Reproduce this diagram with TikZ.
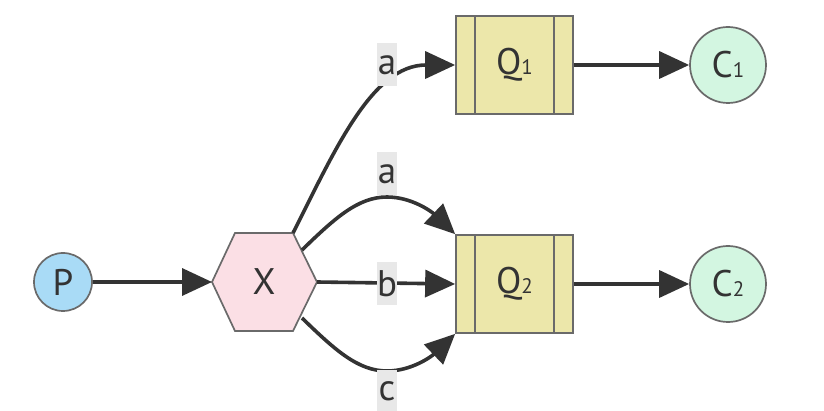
\documentclass[tikz,border=0pt]{standalone}
\usepackage{fontspec}
\setmainfont{PT Sans}
\usetikzlibrary{arrows.meta}
\definecolor{edgec}{HTML}{333333}
\definecolor{bordc}{HTML}{6A6A6A}
\definecolor{pfill}{HTML}{A9DBF6}
\definecolor{xfill}{HTML}{FBDFE5}
\definecolor{qfill}{HTML}{ECE7AA}
\definecolor{cfill}{HTML}{D3F6E1}
\definecolor{lfill}{HTML}{E8E8E8}
\newcommand{\subdig}[1]{{\fontsize{21}{21}\selectfont #1}}
\tikzset{
  every node/.style={font=\fontsize{37}{40}\selectfont, text=edgec},
  pnode/.style={circle, draw=bordc, line width=1.7pt, fill=pfill, minimum size=58pt, inner sep=0pt},
  cnode/.style={circle, draw=bordc, line width=1.7pt, fill=cfill, minimum size=76pt, inner sep=0pt},
  hexshape/.style={draw=bordc, line width=1.7pt, fill=xfill, line join=miter},
  qnode/.style={rectangle, draw=bordc, line width=1.7pt, fill=qfill, minimum width=117pt, minimum height=98pt, inner sep=0pt,
    path picture={
      \draw[bordc, line width=1.7pt] ([xshift=19pt]path picture bounding box.north west) -- ([xshift=19pt]path picture bounding box.south west);
      \draw[bordc, line width=1.7pt] ([xshift=-19pt]path picture bounding box.north east) -- ([xshift=-19pt]path picture bounding box.south east);
    }},
  lbl/.style={fill=lfill, minimum width=20pt, minimum height=43pt, inner sep=0pt},
  edge/.style={draw=edgec, line width=3.6pt, -{Triangle[length=30pt, width=27pt]}},
}
\begin{document}
\begin{tikzpicture}[x=1pt, y=-1pt]
\useasboundingbox (0,0) rectangle (824,411);
% hexagon X
\path[hexshape] (212,282) -- (235,233) -- (293,233) -- (317,282) -- (293,331) -- (235,331) -- cycle;
\node (X) at (264,282) {X};
\coordinate (Xw) at (212,282);
\coordinate (Xtr) at (293,233);
\coordinate (Xur) at (302,250);
\coordinate (Xe) at (317,282);
\coordinate (Xlr) at (302,318);

\node[pnode] (P) at (63,282) {P};
\node[qnode] (Q1) at (514.5,65) {Q\subdig{1}};
\node[qnode] (Q2) at (514.5,284) {Q\subdig{2}};
\node[cnode] (C1) at (728,65) {C\subdig{1}};
\node[cnode] (C2) at (728,284) {C\subdig{2}};

% edges
\draw[edge] (P) -- (Xw);
\draw[edge] (Xtr) .. controls (335,150) and (372,65) .. (Q1.west);
\draw[edge] (Xur) .. controls (335,218) and (358,197) .. (387,197) .. controls (412,197) and (432,212) .. (Q2.north west);
\draw[edge] (Xe) -- (Q2.west);
\draw[edge] (Xlr) .. controls (335,350) and (358,371) .. (387,371) .. controls (412,371) and (432,356) .. (Q2.south west);
\draw[edge] (Q1) -- (C1);
\draw[edge] (Q2) -- (C2);

% labels
\node[lbl] (la1) at (387,65) {a};
\node[lbl] (la2) at (387,174) {a};
\node[lbl] (lb) at (387,284) {b};
\node[lbl] (lc) at (387,391) {c};
\end{tikzpicture}
\end{document}
